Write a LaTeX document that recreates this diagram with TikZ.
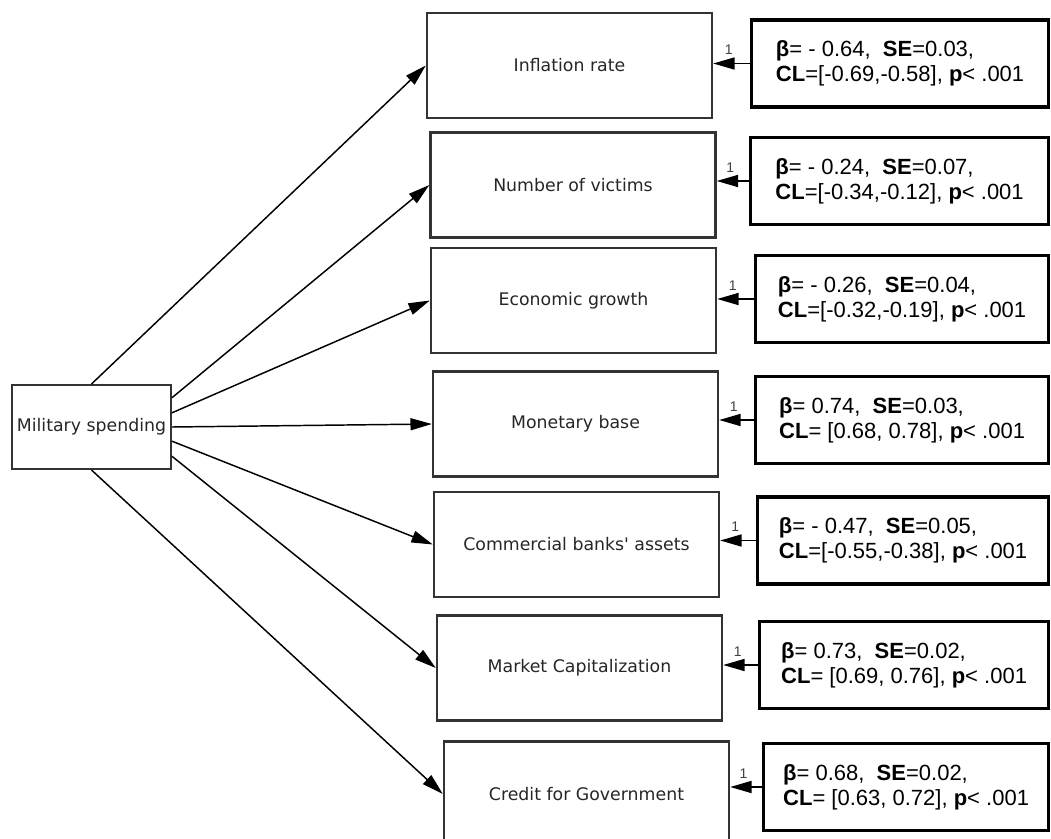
\documentclass[tikz,border=0pt]{standalone}
\usepackage{fontspec}
\setmainfont{Liberation Sans}
\newfontfamily\dejavu{DejaVu Sans}
\usetikzlibrary{arrows.meta}

\begin{document}
\begin{tikzpicture}[
	x=0.75pt, y=-0.75pt,
	mbox/.style={ draw=black!80, line width=1.8pt, minimum width=213.75pt, minimum height=78.75pt, font=\dejavu\fontsize{13pt}{15pt}\selectfont, text=black!85 },
	xbox/.style={ draw=black!80, line width=1.5pt, minimum width=119.25pt, minimum height=63pt, inner sep=1pt, font=\dejavu\fontsize{13pt}{15pt}\selectfont, text=black!85 },
	stat/.style={ draw, line width=2.4pt, anchor=west, align=left, minimum width=#1, minimum height=65.25pt, font=\fontsize{16.5pt}{18.75pt}\selectfont },
	arr/.style={ line width=1.1pt, -{Triangle[length=16pt,width=9pt]} },
	one/.style={ font=\fontsize{10.5pt}{10.5pt}\selectfont, text=black!75, above, inner sep=1pt, yshift=5pt, pos=0.58 }
]
\useasboundingbox (0,0) rectangle (1051,839);

\node at (91.5,427) (ms) [xbox] {Military spending};

\node at (569.5,65.5) (m1) [mbox] {Inflation rate};
\node at (573,185) (m2) [mbox] {Number of victims};
\node at (573.5,300.5) (m3) [mbox] {Economic growth};
\node at (575.5,424) (m4) [mbox] {Monetary base};
\node at (576.5,544.5) (m5) [mbox] {Commercial banks' assets};
\node at (579.5,668) (m6) [mbox] {Market Capitalization};
\node at (586.5,794) (m7) [mbox] {Credit for Government};

\node at (750,63.5) (c1) [stat=222.75pt] {\textbf{β}= - 0.64,\ \ \textbf{SE}=0.03,\\ \textbf{CL}=[-0.69,-0.58], \textbf{p}< .001};
\node at (749,181) (c2) [stat=223.5pt] {\textbf{β}= - 0.24,\ \ \textbf{SE}=0.07,\\ \textbf{CL}=[-0.34,-0.12], \textbf{p}< .001};
\node at (754,299) (c3) [stat=219.75pt] {\textbf{β}= - 0.26,\ \ \textbf{SE}=0.04,\\ \textbf{CL}=[-0.32,-0.19], \textbf{p}< .001};
\node at (754,420) (c4) [stat=219.75pt] {\textbf{β}= 0.74,\ \ \textbf{SE}=0.03,\\ \textbf{CL}= [0.68, 0.78], \textbf{p}< .001};
\node at (756,540.5) (c5) [stat=218.25pt] {\textbf{β}= - 0.47,\ \ \textbf{SE}=0.05,\\ \textbf{CL}=[-0.55,-0.38], \textbf{p}< .001};
\node at (758,665) (c6) [stat=216.75pt] {\textbf{β}= 0.73,\ \ \textbf{SE}=0.02,\\ \textbf{CL}= [0.69, 0.76], \textbf{p}< .001};
\node at (762,787) (c7) [stat=213.75pt] {\textbf{β}= 0.68,\ \ \textbf{SE}=0.02,\\ \textbf{CL}= [0.63, 0.72], \textbf{p}< .001};

\draw[arr] (ms.north) -- (m1.west);
\draw[arr] (ms.20) -- (m2.west);
\draw[arr] (ms.10) -- (m3.west);
\draw[arr] (ms.east) -- (m4.west);
\draw[arr] (ms.-10) -- (m5.west);
\draw[arr] (ms.-20) -- (m6.west);
\draw[arr] (ms.south) -- (m7.west);

\draw[arr] (c1.west) -- node[one] {1} (c1.west -| m1.east);
\draw[arr] (c2.west) -- node[one] {1} (c2.west -| m2.east);
\draw[arr] (c3.west) -- node[one] {1} (c3.west -| m3.east);
\draw[arr] (c4.west) -- node[one] {1} (c4.west -| m4.east);
\draw[arr] (c5.west) -- node[one] {1} (c5.west -| m5.east);
\draw[arr] (c6.west) -- node[one] {1} (c6.west -| m6.east);
\draw[arr] (c7.west) -- node[one] {1} (c7.west -| m7.east);

\end{tikzpicture}
\end{document}
